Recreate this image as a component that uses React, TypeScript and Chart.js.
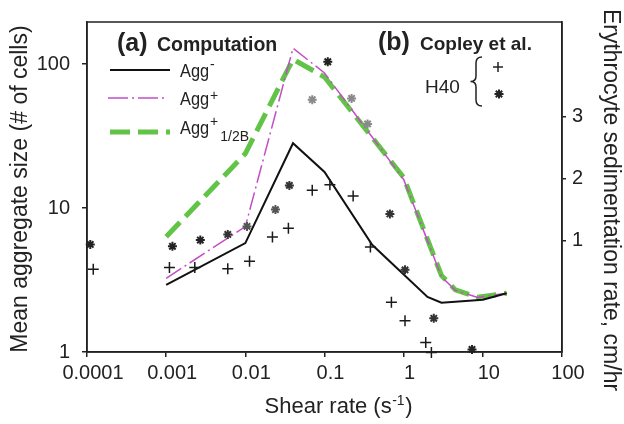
import React, { useEffect, useRef } from "react";
import { Chart, registerables } from "chart.js";

Chart.register(...registerables);

// ---------- data ----------
const xTickValues = [0.0001, 0.001, 0.01, 0.1, 1, 10, 100];
const xTickLabels = ["0.0001", "0.001", "0.01", "0.1", "1", "10", "100"];
const yTickValues = [1, 10, 100];
const yTickLabels = ["1", "10", "100"];
const y2TickValues = [1, 2, 3];
const y2TickLabels = ["1", "2", "3"];

// Computation (mean aggregate size, # of cells)
const aggMinusShear = [0.001, 0.01, 0.04, 0.1, 0.4, 2, 3, 10, 20];
const aggMinusSize = [2.93, 5.71, 28.2, 17.8, 5.56, 2.41, 2.2, 2.31, 2.56];
const aggPlusShear = [0.001, 0.01, 0.04, 0.1, 1, 3, 4.5, 8.6, 20];
const aggPlusSize = [3.25, 7.43, 129, 86.7, 15.8, 3.34, 2.68, 2.39, 2.56];
const aggHalfShear = [0.001, 0.01, 0.04, 0.1, 1, 3, 4.5, 8.6, 20];
const aggHalfSize = [6.31, 23.9, 108, 81.3, 16.3, 3.4, 2.7, 2.4, 2.56];

// Copley et al., H40 (erythrocyte sedimentation rate, cm/hr)
const plusShear = [0.00012, 0.0011, 0.0023, 0.006, 0.0113, 0.022, 0.035, 0.07, 0.117, 0.23, 0.38, 0.7, 1.04, 1.9, 2.24];
const plusRate = [0.54, 0.57, 0.57, 0.55, 0.67, 1.06, 1.2, 1.81, 1.9, 1.72, 0.9, 0.01, -0.29, -0.64, -0.8];
const starShear = [0.00011, 0.0012, 0.0027, 0.006, 0.0105, 0.024, 0.036, 0.07, 0.11, 0.22, 0.35, 0.67, 1.04, 2.4, 7.3];
const starRate = [0.94, 0.91, 1.01, 1.1, 1.23, 1.5, 1.89, 3.27, 3.88, 3.29, 2.88, 1.43, 0.53, -0.25, -0.75];

// ---------- styles ----------
const FONT = '"Liberation Sans", Arial, Helvetica, sans-serif';
const INK = "#222222";
const MAGENTA = "#c24ec6";
const GREEN = "#62c446";
const starColors = ["#222", "#222", "#222", "#333", "#555", "#555", "#333", "#8a8a8a", "#222", "#8a8a8a", "#8a8a8a", "#333", "#333", "#333", "#222"];

function labelFor(values: number[], labels: string[], v: number, log: boolean) {
  const i = values.findIndex((t) =>
    log ? Math.abs(Math.log10(t) - Math.log10(v)) < 1e-6 : Math.abs(t - v) < 1e-9
  );
  return i >= 0 ? labels[i] : "";
}

function aggLabel(ctx: CanvasRenderingContext2D, x: number, y: number, sup: string, supDy: number, sub?: string) {
  // "Agg" drawn slightly condensed like the reference
  ctx.save();
  ctx.font = `19px ${FONT}`;
  const w = ctx.measureText("Agg").width * 0.86;
  ctx.translate(x, y);
  ctx.scale(0.86, 1);
  ctx.fillText("Agg", 0, 0);
  ctx.restore();
  ctx.font = `14px ${FONT}`;
  ctx.fillText(sup, x + w + 1, y - supDy);
  if (sub) {
    const ws = ctx.measureText(sup).width;
    ctx.fillText(sub, x + w + ws + 3, y + 7);
  }
}

const overlay = {
  id: "overlay",
  afterDraw(chart: any) {
    const ctx: CanvasRenderingContext2D = chart.ctx;
    const a = chart.chartArea;
    ctx.save();
    // frame
    ctx.strokeStyle = INK;
    ctx.lineWidth = 1.5;
    ctx.strokeRect(a.left, a.top, a.right - a.left, a.bottom - a.top);

    ctx.fillStyle = INK;
    ctx.textBaseline = "alphabetic";

    // left axis title
    ctx.save();
    ctx.translate(21, 189);
    ctx.rotate(-Math.PI / 2);
    ctx.font = `23px ${FONT}`;
    ctx.textAlign = "center";
    ctx.textBaseline = "middle";
    ctx.fillText("Mean aggregate size (# of cells)", 0, 0);
    ctx.restore();

    // right axis title
    ctx.save();
    ctx.translate(610, 200);
    ctx.rotate(Math.PI / 2);
    ctx.font = `23px ${FONT}`;
    ctx.textAlign = "center";
    ctx.textBaseline = "middle";
    ctx.fillText("Erythrocyte sedimentation rate, cm/hr", 0, 0);
    ctx.restore();

    // bottom axis title with superscript
    ctx.textAlign = "left";
    ctx.font = `22px ${FONT}`;
    const t1 = "Shear rate (s";
    const w1 = ctx.measureText(t1).width;
    const w3 = ctx.measureText(")").width;
    ctx.font = `14px ${FONT}`;
    const w2 = ctx.measureText("-1").width;
    const bx = 338 - (w1 + w2 + w3) / 2;
    const by = 413;
    ctx.font = `22px ${FONT}`;
    ctx.fillText(t1, bx, by);
    ctx.font = `14px ${FONT}`;
    ctx.fillText("-1", bx + w1 + 0.5, by - 8);
    ctx.font = `22px ${FONT}`;
    ctx.fillText(")", bx + w1 + w2 + 1, by);

    // (a) Computation
    ctx.font = `bold 25px ${FONT}`;
    ctx.fillText("(a)", 117, 51);
    ctx.font = `bold 19.5px ${FONT}`;
    ctx.fillText("Computation", 157, 51);

    // legend lines
    ctx.lineCap = "butt";
    ctx.strokeStyle = "#111";
    ctx.lineWidth = 2;
    ctx.setLineDash([]);
    ctx.beginPath();
    ctx.moveTo(110, 70);
    ctx.lineTo(170, 70);
    ctx.stroke();

    ctx.strokeStyle = MAGENTA;
    ctx.lineWidth = 1.5;
    ctx.setLineDash([20, 4, 2, 4]);
    ctx.beginPath();
    ctx.moveTo(108, 98);
    ctx.lineTo(168, 98);
    ctx.stroke();

    ctx.strokeStyle = GREEN;
    ctx.lineWidth = 5;
    ctx.setLineDash([20, 8]);
    ctx.beginPath();
    ctx.moveTo(110, 132);
    ctx.lineTo(170, 132);
    ctx.stroke();
    ctx.setLineDash([]);

    // legend texts
    ctx.fillStyle = INK;
    aggLabel(ctx, 180, 77, "-", 8);
    aggLabel(ctx, 180, 105, "+", 5);
    aggLabel(ctx, 180, 134, "+", 8, "1/2B");

    // (b) Copley et al.
    ctx.font = `bold 25px ${FONT}`;
    ctx.fillText("(b)", 378, 50);
    ctx.font = `bold 19px ${FONT}`;
    ctx.fillText("Copley et al.", 420, 50);

    ctx.font = `19px ${FONT}`;
    ctx.fillText("H40", 425, 93);

    // brace
    ctx.strokeStyle = INK;
    ctx.lineWidth = 1.5;
    ctx.beginPath();
    ctx.moveTo(482, 57);
    ctx.quadraticCurveTo(476, 57, 476, 63);
    ctx.lineTo(476, 76);
    ctx.quadraticCurveTo(476, 81.5, 470.5, 81.5);
    ctx.quadraticCurveTo(476, 81.5, 476, 87);
    ctx.lineTo(476, 100);
    ctx.quadraticCurveTo(476, 106, 482, 106);
    ctx.stroke();

    // legend markers
    const px = 498, py = 67;
    ctx.lineWidth = 1.5;
    ctx.beginPath();
    ctx.moveTo(px - 5, py); ctx.lineTo(px + 5, py);
    ctx.moveTo(px, py - 5); ctx.lineTo(px, py + 5);
    ctx.stroke();
    const sx = 499, sy = 94;
    ctx.lineWidth = 2;
    ctx.beginPath();
    for (let k = 0; k < 4; k++) {
      const ang = (k * Math.PI) / 4;
      const dx = Math.cos(ang) * 4.5, dy = Math.sin(ang) * 4.5;
      ctx.moveTo(sx - dx, sy - dy);
      ctx.lineTo(sx + dx, sy + dy);
    }
    ctx.stroke();

    ctx.restore();
  },
};

export default function App() {
  const ref = useRef<HTMLCanvasElement>(null);

  useEffect(() => {
    const toPts = (xs: number[], ys: number[]) => xs.map((x, i) => ({ x, y: ys[i] }));
    const chart = new Chart(ref.current as HTMLCanvasElement, {
      type: "scatter",
      data: {
        datasets: [
          {
            label: "H40 *",
            data: toPts(starShear, starRate),
            yAxisID: "y2",
            showLine: false,
            pointStyle: "star",
            pointRadius: 4.5,
            pointBorderWidth: 2,
            pointBorderColor: starColors,
            pointBackgroundColor: starColors,
            borderColor: starColors,
            clip: false,
            order: 0,
          } as any,
          {
            label: "H40 +",
            data: toPts(plusShear, plusRate),
            yAxisID: "y2",
            showLine: false,
            pointStyle: "cross",
            pointRadius: 5.5,
            pointBorderWidth: 1.5,
            pointBorderColor: "#1a1a1a",
            borderColor: "#1a1a1a",
            clip: false,
            order: 1,
          } as any,
          {
            label: "Agg-",
            data: toPts(aggMinusShear, aggMinusSize),
            yAxisID: "y",
            showLine: true,
            borderColor: "#111111",
            borderWidth: 2,
            pointRadius: 0,
            tension: 0,
            order: 2,
          } as any,
          {
            label: "Agg+",
            data: toPts(aggPlusShear, aggPlusSize),
            yAxisID: "y",
            showLine: true,
            borderColor: MAGENTA,
            borderWidth: 1.5,
            borderDash: [18, 4, 2, 4],
            pointRadius: 0,
            tension: 0,
            order: 3,
          } as any,
          {
            label: "Agg+ 1/2B",
            data: toPts(aggHalfShear, aggHalfSize),
            yAxisID: "y",
            showLine: true,
            borderColor: GREEN,
            borderWidth: 5,
            borderDash: [20, 8],
            borderCapStyle: "butt",
            pointRadius: 0,
            tension: 0,
            order: 4,
          } as any,
        ],
      },
      options: {
        responsive: false,
        animation: false,
        layout: { padding: { top: 10, left: 0, right: 0, bottom: 0 } },
        plugins: { legend: { display: false }, tooltip: { enabled: false } },
        scales: {
          x: {
            type: "logarithmic",
            position: "bottom",
            min: 0.0001,
            max: 100,
            afterBuildTicks: (s: any) => {
              s.ticks = xTickValues.map((v) => ({ value: v }));
            },
            afterFit: (s: any) => {
              s.height = 72;
            },
            ticks: {
              autoSkip: false,
              maxRotation: 0,
              minRotation: 0,
              padding: 4,
              labelOffset: 6,
              color: INK,
              font: { family: FONT, size: 20 },
              callback: (v: any) => labelFor(xTickValues, xTickLabels, Number(v), true),
            },
            grid: { display: true, drawOnChartArea: false, drawTicks: true, tickLength: 5, color: INK, lineWidth: 1.5 },
            border: { display: true, color: INK, width: 1.5 },
          },
          y: {
            type: "logarithmic",
            position: "left",
            min: 1,
            max: 196,
            afterBuildTicks: (s: any) => {
              s.ticks = yTickValues.map((v) => ({ value: v }));
            },
            afterFit: (s: any) => {
              s.width = 87;
            },
            ticks: {
              padding: 12,
              color: INK,
              font: { family: FONT, size: 20, lineHeight: 1 },
              callback: (v: any) => labelFor(yTickValues, yTickLabels, Number(v), true),
            },
            grid: { display: true, drawOnChartArea: false, drawTicks: true, tickLength: 5, color: INK, lineWidth: 1.5 },
            border: { display: true, color: INK, width: 1.5 },
          },
          y2: {
            type: "linear",
            position: "right",
            min: -0.792,
            max: 4.52,
            afterBuildTicks: (s: any) => {
              s.ticks = y2TickValues.map((v) => ({ value: v }));
            },
            afterFit: (s: any) => {
              s.width = 62;
            },
            ticks: {
              padding: 6,
              color: INK,
              font: { family: FONT, size: 20, lineHeight: 1 },
              callback: (v: any) => labelFor(y2TickValues, y2TickLabels, Number(v), false),
            },
            grid: { display: true, drawOnChartArea: false, drawTicks: true, tickLength: 4, color: INK, lineWidth: 1.5 },
            border: { display: true, color: INK, width: 1.5 },
          },
        },
      },
      plugins: [overlay],
    });
    return () => chart.destroy();
  }, []);

  return (
    <canvas
      ref={ref}
      width={624}
      height={424}
      style={{ display: "block", position: "absolute", left: 0, top: 0 }}
    />
  );
}
